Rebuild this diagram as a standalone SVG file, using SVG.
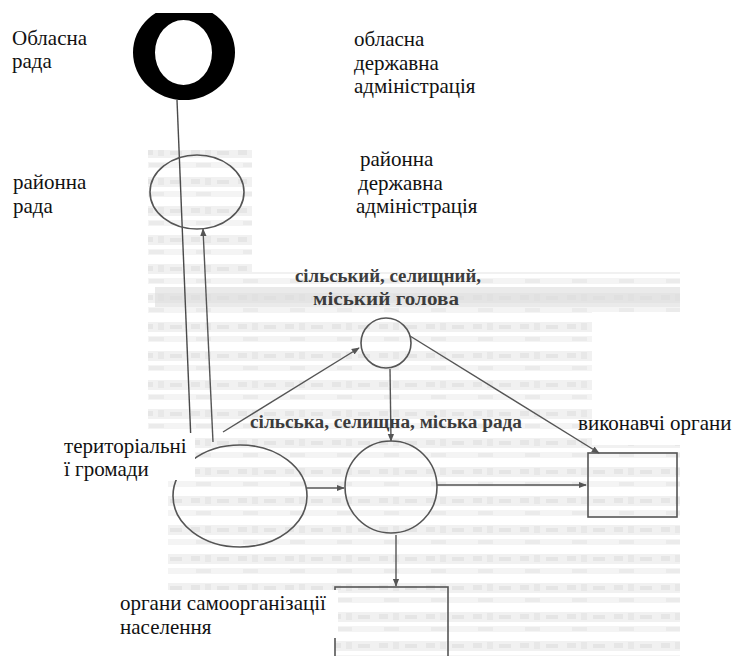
<svg xmlns="http://www.w3.org/2000/svg" width="738" height="656" viewBox="0 0 738 656">
<style>
text{font-family:'Liberation Serif','Times New Roman','DejaVu Serif',serif}
.lbl{font-size:21px;fill:#111}
.bold{font-size:18px;font-weight:bold;fill:#3c3c3c}
.shape{fill:none;stroke:#555;stroke-width:1.6}
.line{fill:none;stroke:#4a4a4a;stroke-width:1.4}
.arr{fill:none;stroke:#555;stroke-width:1.4;marker-end:url(#ah)}
</style>
<defs>
<marker id="ah" viewBox="0 0 10 10" refX="9" refY="5" markerWidth="8" markerHeight="8" markerUnits="userSpaceOnUse" orient="auto">
<path d="M0,1 L10,5 L0,9 Z" fill="#555"/>
</marker>
<pattern id="noise" patternUnits="userSpaceOnUse" width="47" height="29">
<rect x="0" y="3" width="47" height="10" fill="#f1f1f1"/>
<rect x="3" y="5" width="9" height="5" fill="#e6e6e6"/>
<rect x="17" y="4" width="6" height="7" fill="#e8e8e8"/>
<rect x="29" y="6" width="12" height="4" fill="#e5e5e5"/>
<rect x="0" y="17" width="47" height="6" fill="#f4f4f4"/>
<rect x="8" y="18" width="15" height="4" fill="#ebebeb"/>
</pattern>
<clipPath id="topclip"><rect x="0" y="13" width="738" height="643"/></clipPath>
</defs>
<rect width="738" height="656" fill="#fff"/>
<g id="background-noise">
<path d="M148,150 H252 V272 H680 V312 H592 V445 H680 V656 H335 V595 H168 V440 H148 Z" fill="url(#noise)"/>
<rect x="155" y="287" width="525" height="20" fill="#dcdcdc" opacity="0.6"/>
</g>
<g id="connectors">
<line class="line" x1="177" y1="100" x2="191" y2="442"/>
<line class="arr" x1="213" y1="442" x2="203" y2="229"/>
<line class="arr" x1="223" y1="432" x2="359" y2="348"/>
<line class="arr" x1="410" y1="336" x2="599" y2="453"/>
<line class="arr" x1="390" y1="369" x2="391" y2="441"/>
<line class="arr" x1="307" y1="488" x2="344" y2="488"/>
<line class="arr" x1="437" y1="485" x2="586" y2="485"/>
<line class="arr" x1="396" y1="535" x2="396" y2="586"/>
</g>
<g id="oblast-symbol">
<path clip-path="url(#topclip)" fill-rule="evenodd" fill="#000" d="M133,52.5 A51,47.5 0 1 0 235,52.5 A51,47.5 0 1 0 133,52.5 Z M155,52.5 A28.5,32.5 0 1 0 212,52.5 A28.5,32.5 0 1 0 155,52.5 Z"/>
</g>
<g id="oblast-rada"><text class="lbl" x="12" y="45">Обласна</text><text class="lbl" x="12" y="68">рада</text></g>
<g id="oblast-admin"><text class="lbl" x="354" y="46">обласна</text><text class="lbl" x="354" y="70">державна</text><text class="lbl" x="354" y="93">адміністрація</text></g>
<g id="raion-rada"><ellipse class="shape" cx="197" cy="192" rx="47" ry="37"/><text class="lbl" x="13" y="189">районна</text><text class="lbl" x="13" y="213">рада</text></g>
<g id="raion-admin"><text class="lbl" x="360" y="166">районна</text><text class="lbl" x="358" y="190">державна</text><text class="lbl" x="356" y="213">адміністрація</text></g>
<g id="holova"><circle class="shape" cx="386" cy="343" r="25"/><text class="bold" x="388" y="282" text-anchor="middle" textLength="186" lengthAdjust="spacingAndGlyphs">сільський, селищний,</text><text class="bold" x="386" y="305" text-anchor="middle" textLength="146" lengthAdjust="spacingAndGlyphs">міський голова</text></g>
<g id="rada"><circle class="shape" cx="391" cy="487" r="46"/><text class="bold" x="250" y="428" textLength="272" lengthAdjust="spacingAndGlyphs">сільська, селищна, міська рада</text></g>
<g id="hromady"><ellipse class="shape" cx="240" cy="496" rx="67" ry="51"/><rect x="60" y="433" width="135" height="47" fill="#fff"/><text class="lbl" x="64" y="453">територіальні</text><text class="lbl" x="64" y="476">ї громади</text></g>
<g id="vykonavchi"><rect class="shape" x="588" y="453" width="89" height="64"/><text class="lbl" x="578" y="430">виконавчі органи</text></g>
<g id="samoorg"><rect class="shape" x="335" y="587" width="113" height="80"/><rect x="118" y="590" width="220" height="48" fill="#fff"/><text class="lbl" x="120" y="610">органи самоорганізації</text><text class="lbl" x="120" y="634">населення</text></g>
</svg>
